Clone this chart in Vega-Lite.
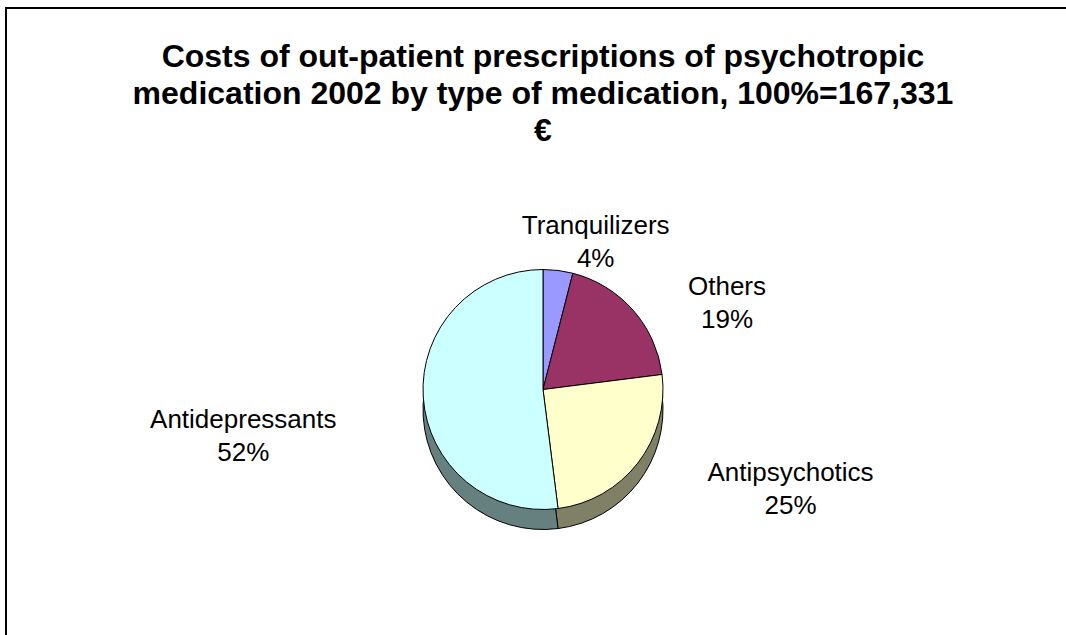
{
  "$schema": "https://vega.github.io/schema/vega-lite/v6.json",
  "width": 1066,
  "height": 635,
  "autosize": {"type": "fit", "contains": "padding"},
  "padding": {"left": 6, "top": 8, "right": -8, "bottom": -8},
  "background": "white",
  "view": {"stroke": "black", "strokeWidth": 2, "fill": "white"},
  "config": {
    "view": {"stroke": "black", "strokeWidth": 2},
    "font": "Liberation Sans"
  },
  "title": {
    "text": ["Costs of out-patient prescriptions of psychotropic", "medication 2002 by type of medication, 100%=167,331", "€"],
    "font": "Liberation Sans",
    "fontSize": 32,
    "fontWeight": "bold",
    "lineHeight": 37,
    "color": "black",
    "anchor": "middle",
    "offset": -140,
    "dx": 3
  },
  "data": {
    "values": [
      {"category": "Tranquilizers", "share": 4, "label": "Tranquilizers\n4%"},
      {"category": "Others", "share": 19, "label": "Others\n19%"},
      {"category": "Antipsychotics", "share": 25, "label": "Antipsychotics\n25%"},
      {"category": "Antidepressants", "share": 52, "label": "Antidepressants\n52%"}
    ]
  },
  "encoding": {
    "theta": {"field": "share", "type": "quantitative", "stack": true},
    "order": {"field": "share", "type": "quantitative", "sort": "ascending"}
  },
  "layer": [
    {
      "mark": {"type": "arc", "outerRadius": 120, "stroke": "black", "strokeWidth": 1, "x": {"expr": "width/2 + 3"}, "y": {"expr": "height/2 + 84"}},
      "encoding": {
        "color": {
          "field": "category", "type": "nominal", "legend": null,
          "scale": {"domain": ["Tranquilizers", "Others", "Antipsychotics", "Antidepressants"], "range": ["#66669F", "#66223F", "#808066", "#668080"]}
        }
      }
    },
    {
      "mark": {"type": "arc", "outerRadius": 120, "stroke": "black", "strokeWidth": 1, "x": {"expr": "width/2 + 3"}, "y": {"expr": "height/2 + 64"}},
      "encoding": {
        "color": {
          "field": "category", "type": "nominal", "legend": null,
          "scale": {"domain": ["Tranquilizers", "Others", "Antipsychotics", "Antidepressants"], "range": ["#9999FF", "#993366", "#FFFFCC", "#CCFFFF"]}
        }
      }
    },
    {
      "mark": {
        "type": "text",
        "radius": {"expr": "datum.category === 'Tranquilizers' ? 165 : datum.category === 'Others' ? 140 : datum.category === 'Antipsychotics' ? 150 : 140"},
        "dx": {"expr": "datum.category === 'Tranquilizers' ? 32 : datum.category === 'Others' ? 79 : datum.category === 'Antipsychotics' ? 129 : -160"},
        "dy": {"expr": "datum.category === 'Tranquilizers' ? 0 : datum.category === 'Others' ? -10 : datum.category === 'Antipsychotics' ? -8 : 22"},
        "align": "center",
        "baseline": "middle", "lineBreak": "\n", "fontSize": 26, "lineHeight": 33, "font": "Liberation Sans", "color": "black",
        "x": {"expr": "width/2 + 3"}, "y": {"expr": "height/2 + 64"}
      },
      "encoding": {"text": {"field": "label"}}
    }
  ],
  "resolve": {"scale": {"color": "independent"}}
}
